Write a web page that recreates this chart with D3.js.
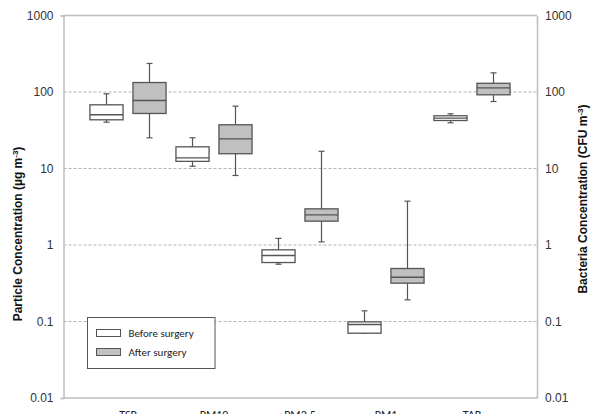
<!DOCTYPE html>
<html>
<head>
<meta charset="utf-8">
<script src="https://cdn.jsdelivr.net/npm/d3@7"></script>
<style>
  html, body { margin: 0; padding: 0; background: #fff; }
  svg text { font-family: "Liberation Sans", Arial, sans-serif; }
</style>
</head>
<body>
<div id="chart"></div>
<script>
  var categories = ['TSP', 'PM10', 'PM2.5', 'PM1', 'TAB'];
  var groups = ['Before surgery', 'After surgery'];
  var yTicks = [0.01, 0.1, 1, 10, 100, 1000];
  var yTickLabels = ['0.01', '0.1', '1', '10', '100', '1000'];

  // [min, q1, median, q3, max] per category
  var beforeStats = [
    [40.3, 43.3, 50.4, 68, 94.7],
    [10.7, 12.4, 13.8, 19.2, 25.2],
    [0.561, 0.59, 0.729, 0.865, 1.22],
    [0.0703, 0.0703, 0.0914, 0.099, 0.138],
    [39.6, 42.4, 45.5, 48.9, 51.9]
  ];
  var afterStats = [
    [25.2, 52.4, 77.4, 133, 236],
    [8.1, 15.6, 24.4, 37.3, 65.3],
    [1.10, 2.05, 2.48, 2.97, 16.8],
    [0.192, 0.317, 0.379, 0.493, 3.74],
    [75.1, 91.9, 113.5, 130, 178]
  ];
  var groupFills = ['#ffffff', '#c0c0c0'];

  var width = 600;
  var height = 414;
  var plotLeft = 63.5;
  var plotRight = 537;
  var plotTop = 15.5;
  var plotBottom = 398;

  var svg = d3.select('#chart').append('svg')
    .attr('width', width)
    .attr('height', height);

  var y = d3.scaleLog().domain([0.01, 1000]).range([plotBottom, plotTop]);
  var x = d3.scaleBand().domain(categories).range([85, 515]);
  var xSub = d3.scaleBand().domain(groups).range([0, x.bandwidth()])
    .paddingInner(0.23).paddingOuter(0.115);

  // grid
  svg.append('g').selectAll('line')
    .data(yTicks.slice(1, -1))
    .enter().append('line')
    .attr('x1', plotLeft).attr('x2', plotRight)
    .attr('y1', function (d) { return y(d); })
    .attr('y2', function (d) { return y(d); })
    .attr('stroke', '#b4b4b4')
    .attr('stroke-width', 1)
    .attr('stroke-dasharray', '3,2');

  // axes
  var axisColor = '#bdbdbd';
  var leftAxis = svg.append('g')
    .attr('transform', 'translate(' + plotLeft + ',0)')
    .call(d3.axisLeft(y).tickValues(yTicks)
      .tickFormat(function (d, i) { return yTickLabels[i]; })
      .tickSize(3).tickPadding(7));
  var rightAxis = svg.append('g')
    .attr('transform', 'translate(' + plotRight + ',0)')
    .call(d3.axisRight(y).tickValues(yTicks)
      .tickFormat(function (d, i) { return yTickLabels[i]; })
      .tickSize(0).tickPadding(8));
  [leftAxis, rightAxis].forEach(function (ax) {
    ax.select('.domain').attr('stroke', axisColor).attr('stroke-width', 1.5);
    ax.selectAll('.tick line').attr('stroke', axisColor).attr('stroke-width', 1.2);
    ax.selectAll('.tick text')
      .attr('fill', '#333')
      .style('font-family', '"Liberation Sans Narrow", "Liberation Sans", Arial, sans-serif')
      .style('font-size', '12px');
  });
  leftAxis.selectAll('.tick').filter(function (d) { return d !== 1000 && d !== 0.01; })
    .select('line').remove();

  var bottomAxis = svg.append('g')
    .attr('transform', 'translate(0,' + plotBottom + ')')
    .call(d3.axisBottom(x).tickSize(0).tickPadding(12));
  bottomAxis.select('.domain')
    .attr('d', 'M' + plotLeft + ',0H' + plotRight)
    .attr('stroke', axisColor).attr('stroke-width', 1.5);
  bottomAxis.selectAll('.tick text')
    .attr('fill', '#222')
    .style('font-family', 'Carlito, "Open Sans", "Liberation Sans", sans-serif')
    .style('font-size', '12px');

  // top border of the frame
  svg.append('line')
    .attr('x1', plotLeft).attr('x2', plotRight)
    .attr('y1', y(1000)).attr('y2', y(1000))
    .attr('stroke', axisColor).attr('stroke-width', 1.5);

  // boxes
  var boxStroke = '#555';
  var rows = [];
  categories.forEach(function (c, i) {
    rows.push({ cat: c, group: groups[0], s: beforeStats[i], fill: groupFills[0] });
    rows.push({ cat: c, group: groups[1], s: afterStats[i], fill: groupFills[1] });
  });

  var boxes = svg.append('g').selectAll('g')
    .data(rows)
    .enter().append('g')
    .attr('transform', function (d) {
      return 'translate(' + (x(d.cat) + xSub(d.group)) + ',0)';
    });
  var bw = xSub.bandwidth();
  var capW = 6;

  boxes.append('line')
    .attr('x1', bw / 2).attr('x2', bw / 2)
    .attr('y1', function (d) { return y(d.s[0]); })
    .attr('y2', function (d) { return y(d.s[4]); })
    .attr('stroke', boxStroke).attr('stroke-width', 1.2);
  boxes.selectAll('.cap')
    .data(function (d) { return [d.s[0], d.s[4]]; })
    .enter().append('line')
    .attr('x1', bw / 2 - capW / 2).attr('x2', bw / 2 + capW / 2)
    .attr('y1', function (v) { return y(v); })
    .attr('y2', function (v) { return y(v); })
    .attr('stroke', boxStroke).attr('stroke-width', 1.2);
  boxes.append('rect')
    .attr('x', 0).attr('width', bw)
    .attr('y', function (d) { return y(d.s[3]); })
    .attr('height', function (d) { return y(d.s[1]) - y(d.s[3]); })
    .attr('fill', function (d) { return d.fill; })
    .attr('stroke', boxStroke).attr('stroke-width', 1.3);
  boxes.append('line')
    .attr('x1', 0).attr('x2', bw)
    .attr('y1', function (d) { return y(d.s[2]); })
    .attr('y2', function (d) { return y(d.s[2]); })
    .attr('stroke', boxStroke).attr('stroke-width', 1.3);

  // titles
  function addTitle(label, cx, cy) {
    var t = svg.append('text')
      .attr('transform', 'translate(' + cx + ',' + cy + ') rotate(-90)')
      .attr('text-anchor', 'middle')
      .attr('fill', '#111')
      .style('font-weight', 'bold')
      .style('font-size', '12px');
    t.append('tspan').text(label);
    t.append('tspan').attr('dy', -4).style('font-size', '8px').text('-3');
    t.append('tspan').attr('dy', 4).text(')');
  }
  addTitle('Particle Concentration (\u00b5g m', 22, 234);
  addTitle('Bacteria Concentration (CFU m', 587, 199);

  // legend
  var legend = svg.append('g').attr('transform', 'translate(87.5,317.5)');
  legend.append('rect')
    .attr('width', 127.5).attr('height', 51)
    .attr('fill', '#fff').attr('stroke', '#555').attr('stroke-width', 1);
  var items = legend.selectAll('.item')
    .data(groups)
    .enter().append('g')
    .attr('transform', function (d, i) { return 'translate(9,' + (12 + i * 19) + ')'; });
  items.append('rect')
    .attr('width', 24).attr('height', 7)
    .attr('fill', function (d, i) { return groupFills[i]; })
    .attr('stroke', '#555').attr('stroke-width', 1);
  items.append('text')
    .attr('x', 32).attr('y', 7)
    .attr('fill', '#222')
    .style('font-family', 'Carlito, "Open Sans", "Liberation Sans", sans-serif')
    .style('font-size', '11px')
    .text(function (d) { return d; });
</script>
</body>
</html>
